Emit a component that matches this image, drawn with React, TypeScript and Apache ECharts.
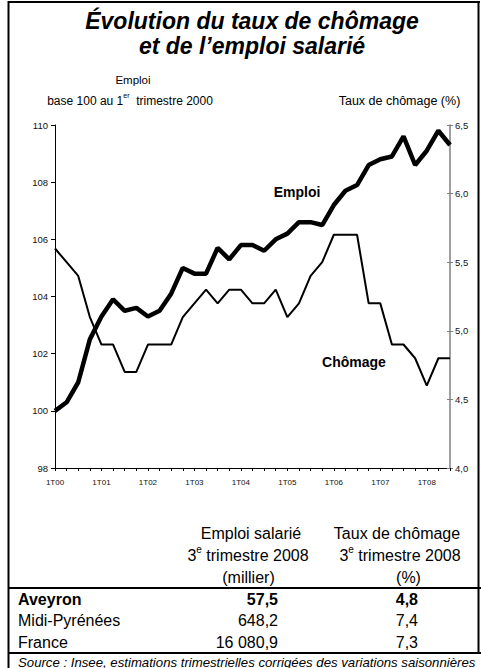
import React, { useEffect, useRef } from "react";
import * as echarts from "echarts";

const quarters = [
  "1T00", "2T00", "3T00", "4T00",
  "1T01", "2T01", "3T01", "4T01",
  "1T02", "2T02", "3T02", "4T02",
  "1T03", "2T03", "3T03", "4T03",
  "1T04", "2T04", "3T04", "4T04",
  "1T05", "2T05", "3T05", "4T05",
  "1T06", "2T06", "3T06", "4T06",
  "1T07", "2T07", "3T07", "4T07",
  "1T08", "2T08", "3T08",
];

const emploi = [
  100.0, 100.3, 101.0, 102.5,
  103.3, 103.9, 103.5, 103.6,
  103.3, 103.5, 104.1, 105.0,
  104.8, 104.8, 105.7, 105.3,
  105.8, 105.8, 105.6, 106.0,
  106.2, 106.6, 106.6, 106.5,
  107.2, 107.7, 107.9, 108.6,
  108.8, 108.9, 109.6, 108.6,
  109.1, 109.8, 109.3,
];

const chomage = [
  5.6, 5.5, 5.4, 5.1,
  4.9, 4.9, 4.7, 4.7,
  4.9, 4.9, 4.9, 5.1,
  5.2, 5.3, 5.2, 5.3,
  5.3, 5.2, 5.2, 5.3,
  5.1, 5.2, 5.4, 5.5,
  5.7, 5.7, 5.7, 5.2,
  5.2, 4.9, 4.9, 4.8,
  4.6, 4.8, 4.8,
];

const tableRegions = ["Aveyron", "Midi-Pyrénées", "France"];
const tableEmploi = ["57,5", "648,2", "16 080,9"];
const tableChomage = ["4,8", "7,4", "7,3"];

const FONT = "'Liberation Sans', Arial, Helvetica, sans-serif";

function txt(
  text: string,
  x: number,
  y: number,
  size: number,
  opts: { align?: string; weight?: string; italic?: boolean; rich?: any; color?: string } = {}
) {
  const align = opts.align || "center";
  return {
    type: "text",
    x,
    y,
    silent: true,
    style: {
      text,
      fontSize: size,
      fontFamily: FONT,
      fontWeight: opts.weight || "normal",
      fontStyle: opts.italic ? "italic" : "normal",
      fill: opts.color || "#000",
      textAlign: align,
      align,
      textVerticalAlign: "middle",
      verticalAlign: "middle",
      rich: opts.rich,
    },
  };
}

function hline(x1: number, x2: number, y: number, w = 2) {
  return {
    type: "line",
    silent: true,
    shape: { x1, y1: y, x2, y2: y },
    style: { stroke: "#000", lineWidth: w },
  };
}
function vline(x: number, y1: number, y2: number, w = 2) {
  return {
    type: "line",
    silent: true,
    shape: { x1: x, y1, x2: x, y2 },
    style: { stroke: "#000", lineWidth: w },
  };
}

const supRich = (size: number) => ({
  n: { fontSize: size, fontFamily: FONT, lineHeight: size + 6, fill: "#000" },
  sup: { fontSize: Math.round(size * 0.62), fontFamily: FONT, lineHeight: 8, verticalAlign: "top", fill: "#000" },
});

export default function App() {
  const ref = useRef<HTMLDivElement>(null);

  useEffect(() => {
    if (!ref.current) return;
    const chart = echarts.init(ref.current, undefined, { renderer: "svg" });

    const graphics: any[] = [
      // frame
      hline(8, 480, 2),
      vline(8.5, 1, 668),
      vline(478.5, 1, 653),
      hline(8, 481, 588),
      hline(8, 481, 653),
      // title
      txt("Évolution du taux de chômage", 252, 20.5, 23, { weight: "bold", italic: true }),
      txt("et de l’emploi salarié", 252, 46, 23, { weight: "bold", italic: true }),
      // axis titles
      txt("Emploi", 133, 80, 11.5),
      txt("{n|base 100 au 1}{sup|er}{n|  trimestre 2000}", 130, 101, 12, { rich: supRich(12) }),
      txt("Taux de chômage (%)", 399.5, 101, 12.5),
      // series labels
      txt("Emploi", 297, 192, 14, { weight: "bold" }),
      txt("Chômage", 354, 362, 14, { weight: "bold" }),
      // table header
      txt("Emploi salarié", 251, 533, 16),
      txt("{n|3}{sup|e}{n| trimestre 2008}", 248, 555, 16, { rich: supRich(16) }),
      txt("(millier)", 248.5, 577, 16),
      txt("Taux de chômage", 397, 533, 16),
      txt("{n|3}{sup|e}{n| trimestre 2008}", 400, 555, 16, { rich: supRich(16) }),
      txt("(%)", 408.5, 577, 16),
      // source
      txt(
        "Source : Insee, estimations trimestrielles corrigées des variations saisonnières",
        18,
        662,
        13.2,
        { align: "left", italic: true }
      ),
    ];

    tableRegions.forEach((r, i) => {
      const y = 599 + i * 21.5;
      const bold = i === 0 ? "bold" : "normal";
      graphics.push(txt(r, 18, y, 16, { align: "left", weight: bold }));
      graphics.push(txt(tableEmploi[i], 278, y, 16, { align: "right", weight: bold }));
      graphics.push(txt(tableChomage[i], 418, y, 16, { align: "right", weight: bold }));
    });

    const commaFmt = (v: number) => v.toFixed(1).replace(".", ",");

    chart.setOption({
      animation: false,
      backgroundColor: "#fff",
      textStyle: { fontFamily: FONT },
      grid: { left: 55, right: 31, top: 125, height: 343, containLabel: false },
      xAxis: {
        type: "category",
        data: quarters,
        boundaryGap: false,
        axisLine: { show: true, lineStyle: { color: "#000", width: 1 } },
        axisTick: { show: true, interval: 0, length: 3, lineStyle: { color: "#000" } },
        axisLabel: { interval: 3, fontSize: 8, color: "#111", margin: 10, fontFamily: FONT },
        splitLine: { show: false },
      },
      yAxis: [
        {
          type: "value",
          position: "left",
          min: 98,
          max: 110,
          interval: 2,
          axisLine: { show: true, lineStyle: { color: "#000", width: 1 } },
          axisTick: { show: true, length: 4, lineStyle: { color: "#000" } },
          axisLabel: { fontSize: 9.5, color: "#111", margin: 7, fontFamily: FONT },
          splitLine: { show: false },
        },
        {
          type: "value",
          position: "right",
          min: 4,
          max: 6.5,
          interval: 0.5,
          axisLine: { show: true, lineStyle: { color: "#808080", width: 1.5 } },
          axisTick: { show: true, length: 3, lineStyle: { color: "#808080" } },
          axisLabel: { fontSize: 9.5, color: "#111", margin: 5, formatter: commaFmt, fontFamily: FONT },
          splitLine: { show: false },
        },
        {
          type: "value",
          position: "right",
          min: 4,
          max: 6.5,
          interval: 0.5,
          axisLine: { show: false },
          axisTick: { show: true, inside: true, length: 3, lineStyle: { color: "#808080" } },
          axisLabel: { show: false },
          splitLine: { show: false },
        },
      ],
      series: [
        {
          type: "line",
          name: "Chômage",
          data: chomage,
          yAxisIndex: 1,
          symbol: "none",
          lineStyle: { color: "#000", width: 2 },
          z: 2,
        },
        {
          type: "line",
          name: "Emploi",
          data: emploi,
          yAxisIndex: 0,
          symbol: "none",
          lineStyle: { color: "#000", width: 4.5 },
          z: 3,
        },
      ],
      graphic: graphics,
    });

    return () => chart.dispose();
  }, []);

  return (
    <div
      ref={ref}
      style={{ position: "fixed", left: 0, top: 0, width: 481, height: 668, background: "#fff" }}
    />
  );
}
